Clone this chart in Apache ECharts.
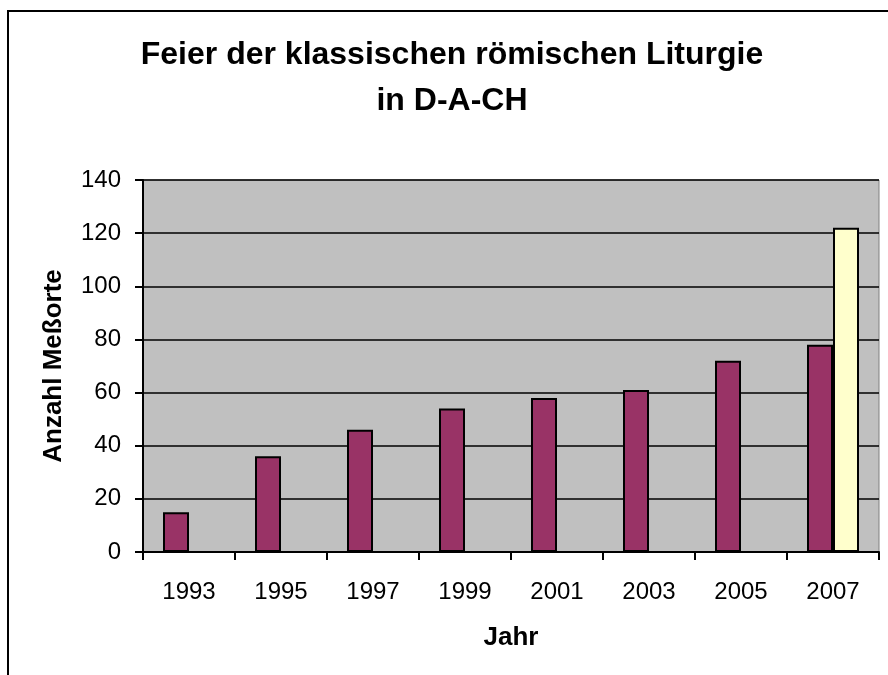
<!DOCTYPE html>
<html>
<head>
<meta charset="utf-8">
<script src="https://cdn.jsdelivr.net/npm/echarts@6/dist/echarts.min.js"></script>
<style>
  html, body { margin: 0; padding: 0; background: #ffffff; }
  #chart { width: 888px; height: 675px; }
</style>
</head>
<body>
<div id="chart"></div>
<script>
const titleText = 'Feier der klassischen römischen Liturgie\nin D-A-CH';
const xAxisName = 'Jahr';
const yAxisName = 'Anzahl Meßorte';
const years = ['1993', '1995', '1997', '1999', '2001', '2003', '2005', '2007'];
const messorte = [15, 36, 46, 54, 58, 61, 72, 78];
const messorteNeu = [null, null, null, null, null, null, null, 122];
const yTicks = { min: 0, max: 140, interval: 20 };

const FONT = '"Liberation Sans", Arial, sans-serif';
const chart = echarts.init(document.getElementById('chart'), null, { renderer: 'canvas' });

chart.setOption({
  backgroundColor: '#ffffff',
  animation: false,
  title: {
    text: titleText,
    left: 452,
    textAlign: 'center',
    top: 32,
    padding: 0,
    textStyle: {
      fontFamily: FONT,
      fontSize: 32,
      fontWeight: 'bold',
      color: '#000000',
      lineHeight: 46
    }
  },
  graphic: [{
    type: 'rect',
    shape: { x: 8, y: 11, width: 1000, height: 1000 },
    style: { fill: 'none', stroke: '#000000', lineWidth: 2 },
    silent: true,
    z: 100
  }],
  grid: {
    left: 143,
    top: 180,
    right: 9,
    bottom: 123,
    show: true,
    backgroundColor: '#C0C0C0',
    borderColor: '#808080',
    borderWidth: 1,
    containLabel: false
  },
  xAxis: {
    type: 'category',
    data: years,
    name: xAxisName,
    nameLocation: 'middle',
    nameGap: 73,
    nameTextStyle: { fontFamily: FONT, fontSize: 26, fontWeight: 'bold', color: '#000000' },
    axisLine: { show: true, lineStyle: { color: '#000000', width: 2 } },
    axisTick: { show: true, inside: false, length: 8, lineStyle: { color: '#000000', width: 2 } },
    axisLabel: { fontFamily: FONT, fontSize: 24, color: '#000000', margin: 28 },
    splitLine: { show: false }
  },
  yAxis: {
    type: 'value',
    min: yTicks.min,
    max: yTicks.max,
    interval: yTicks.interval,
    name: yAxisName,
    nameLocation: 'middle',
    nameGap: 76,
    nameTextStyle: { fontFamily: FONT, fontSize: 26, fontWeight: 'bold', color: '#000000' },
    axisLine: { show: true, lineStyle: { color: '#000000', width: 2 } },
    axisTick: { show: true, inside: false, length: 8, lineStyle: { color: '#000000', width: 2 } },
    axisLabel: { fontFamily: FONT, fontSize: 24, color: '#000000', margin: 22 },
    splitLine: { show: true, lineStyle: { color: '#000000', width: 1.5 } }
  },
  series: [
    {
      name: 'Meßorte',
      type: 'bar',
      data: messorte,
      barWidth: 26,
      barGap: '0%',
      itemStyle: { color: '#993366', borderColor: '#000000', borderWidth: 2 }
    },
    {
      name: 'Meßorte 2007 (nach Motu Proprio)',
      type: 'bar',
      data: messorteNeu,
      barWidth: 26,
      barGap: '0%',
      itemStyle: { color: '#FFFFCC', borderColor: '#000000', borderWidth: 2 }
    }
  ]
});
</script>
</body>
</html>
